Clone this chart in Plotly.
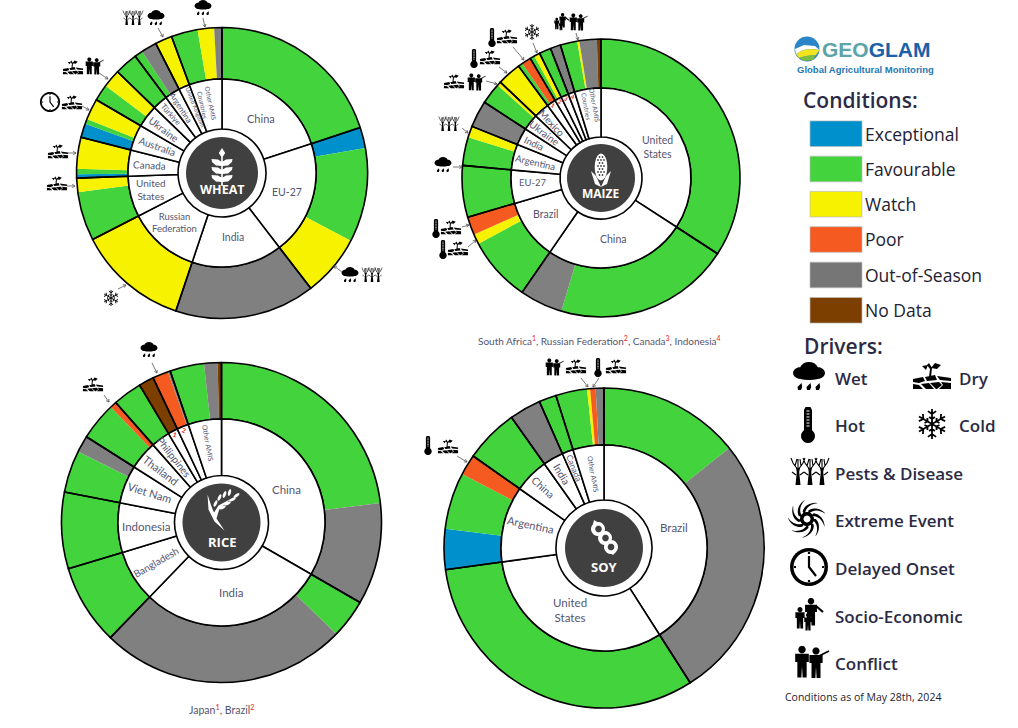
import math

import plotly.graph_objects as go

W, H = 1018, 728

COLORS = {"E": "#0090CC", "F": "#43D33C", "W": "#F7F200", "P": "#F55B21", "O": "#808080", "N": "#7C3F00"}
TEXT = "#55556F"
DARK = "#404040"

# country shares are degrees of the circle
wheat_countries = ["China", "EU-27", "India", "Russian<br>Federation", "United<br>States", "Canada", "Australia",
                   "Ukraine", "Türkiye", "Argentina", "United Kingdom", "Other AMIS<br>Countries"]
wheat_shares = [71.8, 70.6, 56.1, 44.3, 25.2, 16.2, 16.0, 13.9, 9.3, 9.5, 6.8, 20.3]
wheat_conditions = ["F", "E", "F", "W", "O", "W", "F", "W", "E", "F", "W", "E", "F", "W", "F", "W", "F", "F", "O", "W",
                    "F", "W", "O"]
wheat_values = [71.8, 8.3, 37.7, 24.6, 56.1, 44.3, 19.6, 5.6, 1.5, 2.2, 12.5, 5.6, 2.0, 8.4, 6.6, 7.3, 9.3, 3.3, 6.2,
                6.8, 10.6, 6.6, 3.1]

maize_countries = ["United<br>States", "China", "Brazil", "EU-27", "Argentina", "India", "Ukraine", "Mexico",
                   "1", "2", "3", "4", "Other AMIS<br>Countries"]
maize_shares = [123.0, 91.6, 39.0, 21.6, 16.6, 11.2, 10.6, 10.0, 5.8, 4.4, 4.9, 4.3, 17.0]
maize_conditions = ["F", "F", "O", "F", "W", "P", "F", "F", "W", "O", "F", "W", "W", "F", "P", "F", "W", "F", "O",
                    "F", "W", "O", "N"]
maize_values = [123.0, 73.6, 18.0, 27.2, 4.2, 7.6, 21.6, 11.8, 4.8, 11.2, 8.9, 1.7, 10.0, 1.9, 3.9, 1.9, 2.5, 4.9, 4.3,
                7.1, 0.9, 7.3, 1.7]

rice_countries = ["China", "India", "Bangladesh", "Indonesia", "Viet Nam", "Thailand", "Philippines", "1", "2",
                  "Other AMIS"]
rice_shares = [120.0, 104.0, 29.2, 27.8, 21.4, 16.2, 10.6, 5.5, 6.6, 18.7]
rice_conditions = ["F", "O", "F", "O", "F", "F", "F", "O", "F", "P", "F", "N", "P", "O", "F", "O", "N"]
rice_values = [83.0, 37.0, 14.2, 89.8, 29.2, 27.8, 15.3, 6.1, 13.8, 2.4, 10.6, 5.5, 5.7, 0.9, 12.4, 4.9, 1.4]

soy_countries = ["Brazil", "United<br>States", "Argentina", "China", "India", "Canada", "Other AMIS"]
soy_shares = [147.4, 114.8, 42.9, 19.6, 11.5, 6.3, 17.5]
soy_conditions = ["F", "O", "F", "E", "F", "P", "F", "O", "F", "F", "W", "P", "O"]
soy_values = [51.4, 96.0, 114.8, 14.7, 20.6, 7.6, 19.6, 11.5, 6.3, 11.4, 1.1, 2.0, 3.0]

legend_names = ["Exceptional", "Favourable", "Watch", "Poor", "Out-of-Season", "No Data"]
legend_codes = ["E", "F", "W", "P", "O", "N"]


def P(x, y):
    return f"{x / W:.5f},{1 - y / H:.5f}"


def ell(x, y, rx, ry=None, deg=0, n=20):
    ry = rx if ry is None else ry
    c, s = math.cos(math.radians(deg)), math.sin(math.radians(deg))
    pts = []
    for i in range(n):
        t = 2 * math.pi * i / n
        a, b = rx * math.cos(t), ry * math.sin(t)
        pts.append((x + a * c - b * s, y + a * s + b * c))
    return pts


def orient(pts):
    area = sum(pts[i][0] * pts[(i + 1) % len(pts)][1] - pts[(i + 1) % len(pts)][0] * pts[i][1] for i in range(len(pts)))
    return pts if area > 0 else pts[::-1]


def fill_shape(polys, cx, cy, s, color):
    path = ""
    for poly in polys:
        pts = orient(poly)
        path += "M" + " L".join(P(cx + x * s, cy + y * s) for x, y in pts) + " Z "
    return dict(type="path", path=path, xref="paper", yref="paper", fillcolor=color, fillrule="nonzero",
                line=dict(width=0), layer="above")


def line_shape(lines, cx, cy, s, color, width):
    path = ""
    for pts in lines:
        path += "M" + " L".join(P(cx + x * s, cy + y * s) for x, y in pts) + " "
    return dict(type="path", path=path, xref="paper", yref="paper", line=dict(color=color, width=width), layer="above")


def person(x, y, h):
    return [ell(x, y - h * 0.4, h * 0.12),
            [(x - h * 0.22, y - h * 0.27), (x + h * 0.22, y - h * 0.27), (x + h * 0.22, y), (x + h * 0.15, y),
             (x + h * 0.15, y + h * 0.5), (x + h * 0.02, y + h * 0.5), (x, y + h * 0.13), (x - h * 0.02, y + h * 0.5),
             (x - h * 0.15, y + h * 0.5), (x - h * 0.15, y), (x - h * 0.22, y)]]


def snow_lines():
    out = []
    for k in range(6):
        a = math.radians(60 * k + 90)
        ux, uy = math.cos(a), math.sin(a)
        out.append([(0, 0), (15 * ux, 15 * uy)])
        for r, ln in ((10, 5), (5, 3.5)):
            for d in (-55, 55):
                b = a + math.radians(d)
                out.append([(r * ux, r * uy), (r * ux + ln * math.cos(b), r * uy + ln * math.sin(b))])
    return out


def tree(x):
    trunk = [(x - 2.5, 13), (x - 1.2, 0), (x - 2, -4), (x + 2, -4), (x + 1.2, 0), (x + 2.5, 13)]
    branches = [[(x, -2), (x - 5, -9), (x - 7, -14)], [(x, -2), (x, -13)], [(x, -2), (x + 5, -9), (x + 7, -14)],
                [(x - 3, -6), (x - 1, -13)], [(x + 3, -6), (x + 2, -13)], [(x - 2, 3), (x - 6, 0)], [(x + 2, 3), (x + 6, 0)]]
    return trunk, branches


def swirl_polys():
    polys = []
    for k in range(9):
        a0 = 2 * math.pi * k / 9
        left, right = [], []
        for i in range(9):
            t = i / 8
            th = a0 + 1.1 * t
            r = 6 + 13 * t
            w = 2.6 * (1 - t) + 0.2
            left.append(((r + w) * math.cos(th), (r + w) * math.sin(th)))
            right.append(((r - w) * math.cos(th), (r - w) * math.sin(th)))
        polys.append(left + right[::-1])
    return polys


t1, b1 = tree(-12)
t2, b2 = tree(0)
t3, b3 = tree(12)

ICONS = {
    "wet": dict(fill=[ell(-8, -4, 8, 6), ell(0, -8, 9, 7), ell(8, -4, 8, 6), ell(0, -2, 15, 5)]
                + [[(x + 1.5, 6), (x + 2.2, 10), (x + 1, 13), (x - 2, 13), (x - 2.5, 10)] for x in (-9, 0, 9)]),
    "dry": dict(fill=[[(-19, 2), (-9, 0), (-7, 4), (-13, 6), (-19, 5)], [(-7, 0), (3, -2), (5, 3), (-5, 4)],
                      [(5, -1), (19, 1), (19, 4), (8, 3)], [(-19, 7), (-13, 8), (-9, 12), (-19, 12)],
                      [(-11, 7), (-3, 6), (2, 12), (-6, 12)], [(-2, 6), (7, 5), (10, 8), (5, 12), (4, 12)],
                      [(9, 5), (19, 6), (19, 12), (7, 12), (11, 8)],
                      [(-3, 0), (-2, -8), (-5, -12), (-3, -14), (0, -9), (-1, 0)],
                      [(-1, -9), (3, -14), (9, -12), (5, -8)], [(-4, -12), (-10, -11), (-6, -7)]]),
    "hot": dict(fill=[[(-4, 8), (-4, -14), (-2.5, -17), (2.5, -17), (4, -14), (4, 8)], ell(0, 12, 7)],
                white=[[(-1.5, y), (1.5, y)] for y in (-13, -10, -7, -4, -1, 2)]),
    "cold": dict(line=snow_lines(), lw=1.8),
    "pests": dict(fill=[t1, t2, t3], line=b1 + b2 + b3, lw=1.1),
    "swirl": dict(fill=swirl_polys() + [ell(0, 0, 7)], white_fill=[ell(0, 0, 3.5)]),
    "clock": dict(fill=[ell(0, 0, 19, n=32)], white_fill=[ell(0, 0, 15.5, n=32)],
                  line=[[(0, -11), (0, 0), (7, 9)], [(0, -15), (0, -13)], [(0, 15), (0, 13)], [(-15, 0), (-13, 0)],
                        [(15, 0), (13, 0)]], lw=2.2),
    "socio": dict(fill=person(3, -3, 27) + person(-8, 3, 21) + person(0, 7, 17), line=[[(8, -9), (15, -3)]], lw=2.2),
    "conflict": dict(fill=person(-7, 0, 31) + person(7, 1, 30), line=[[(10, -6), (20, -11)]], lw=1.6),
}


def icon(name, cx, cy, s=0.53):
    spec = ICONS[name]
    out = []
    if "fill" in spec:
        out.append(fill_shape(spec["fill"], cx, cy, s, "black"))
    if "white_fill" in spec:
        out.append(fill_shape(spec["white_fill"], cx, cy, s, "white"))
    if "white" in spec:
        out.append(line_shape(spec["white"], cx, cy, s, "white", max(0.6, 1.1 * s)))
    if "line" in spec:
        out.append(line_shape(spec["line"], cx, cy, s, "black", max(0.6, spec["lw"] * s)))
    return out


def leaf(y, side):
    return [(0, y + 3), (side * 6, y + 2.5), (side * 10, y - 1), (side * 10.5, y - 4), (side * 4, y - 3.5), (0, y - 1)]


def crop_glyph(name, cx, cy):
    if name == "wheat":
        polys = [[(0, -19), (3.2, -14), (0, -9), (-3.2, -14)], [(-0.8, -12), (0.8, -12), (0.8, 19), (-0.8, 19)]]
        for y in (-4, 4, 12):
            polys += [leaf(y, 1), leaf(y, -1)]
        return [fill_shape(polys, cx, cy, 1, "white")]
    if name == "maize":
        husk = [[(-10, 1), (-5, 6), (0, 17), (-6, 14)], [(10, 1), (5, 6), (0, 17), (6, 14)]]
        dots = []
        for row, y in enumerate(range(-13, 8, 3)):
            for x in (-3, 0, 3) if row % 2 else (-1.5, 1.5):
                dots.append(ell(x, y, 0.9, n=8))
        return [fill_shape([ell(0, -3, 6.3, 13.5)] + husk, cx, cy, 1, "white"), fill_shape(dots, cx, cy, 1, DARK)]
    if name == "rice":
        polys = [[(-14, -17), (-10, -5), (-5, 7), (3, 19), (-7, 10), (-13, -2)],
                 [(-8, 2), (-3, -6), (10, -13), (-2, -3), (-5, 7)]]
        for (x, y, a) in [(-6, -8, -65), (-2, -14, -65), (3, -17, -70), (8, -19, -75), (1, -4, -25), (6, -8, -25),
                          (11, -12, -25), (15, -16, -35)]:
            polys.append(ell(x, y, 3.6, 1.5, a, n=10))
        return [fill_shape(polys, cx, cy, 1, "white")]
    polys = [ell(-6, -9, 7), ell(1, 0, 7), ell(7, 9, 7), [(-11, -14), (-10, -18), (-5, -15)], [(12, 14), (9, 17), (5, 14)]]
    dark = [ell(-5.5, -9, 3.3), ell(1.5, 0, 3.3), ell(7, 9, 3.3)]
    return [fill_shape(polys, cx, cy, 1, "white"), fill_shape(dark, cx, cy, 1, DARK)]


shapes = []
annotations = []
traces = []


def text(x, y, s, size, color=TEXT, weight=400, angle=0, xanchor="center", family="Lato"):
    annotations.append(dict(x=x / W, y=1 - y / H, xref="paper", yref="paper", text=s, showarrow=False, textangle=angle,
                            xanchor=xanchor, yanchor="middle", align="center", borderpad=0, borderwidth=0,
                            font=dict(family=family, size=size, color=color, weight=weight)))


def arrow(x0, y0, x1, y1):
    a = math.atan2(y1 - y0, x1 - x0)
    head = [(x1 + 3.2 * math.cos(a + d), y1 + 3.2 * math.sin(a + d)) for d in (2.6, -2.6)]
    shapes.append(line_shape([[(x0, y0), (x1, y1)], [head[0], (x1, y1), head[1]]], 0, 0, 1, "#555555", 0.8))


def domain(cx, cy, r):
    return dict(x=[(cx - r) / W, (cx + r) / W], y=[1 - (cy + r) / H, 1 - (cy - r) / H])


def donut(cx, cy, r_out, r_in, r_ring, r_dark, countries, shares, conditions, values, label_style, title, glyph, title_size, title_dy, glyph_dy):
    common = dict(sort=False, direction="clockwise", rotation=0, textinfo="none", showlegend=False, hoverinfo="label+value")
    traces.append(go.Pie(values=values, labels=[f"{i}" for i in range(len(values))], domain=domain(cx, cy, r_out),
                         hole=r_in / r_out, marker=dict(colors=[COLORS[c] for c in conditions], line=dict(width=0)), **common))
    traces.append(go.Pie(values=shares, labels=countries, domain=domain(cx, cy, r_out), hole=r_in / r_out,
                         marker=dict(colors=["rgba(0,0,0,0)"] * len(shares), line=dict(color="black", width=1.6)), **common))
    traces.append(go.Pie(values=shares, labels=countries, domain=domain(cx, cy, r_in), hole=r_ring / r_in,
                         marker=dict(colors=["white"] * len(shares), line=dict(color="black", width=1.6)), **common))
    shapes.append(dict(type="path", path="M" + " L".join(P(cx + x, cy + y) for x, y in ell(0, 0, r_dark, n=64)) + " Z",
                       xref="paper", yref="paper", fillcolor=DARK, line=dict(width=0), layer="above"))
    shapes.extend(crop_glyph(glyph, cx, cy + glyph_dy))
    text(cx, cy + title_dy, title, title_size, "white", 700, family="Open Sans")

    start = 0
    for name, share in zip(countries, shares):
        frac, angle, size, nudge = label_style[name]
        mid = math.radians(start + share / 2 + nudge)
        x = cx + frac * r_in * math.sin(mid)
        y = cy - frac * r_in * math.cos(mid)
        if name.isdigit():
            text(x, y, name, size, "#F02020", 700, angle)
        else:
            text(x, y, name, size, TEXT, 400, angle)
        start += share


wheat_style = {"China": (.71, 0, 11, 0), "EU-27": (.72, 0, 10.5, -1), "India": (.69, 0, 10.5, 0),
               "Russian<br>Federation": (.73, 0, 9.5, 3), "United<br>States": (.78, 0, 10, 1.5), "Canada": (.78, 3, 10, 0),
               "Australia": (.75, 20, 10, 0), "Ukraine": (.78, 37, 10, 0), "Türkiye": (.83, 48, 8, 0),
               "Argentina": (.82, 57, 8, 0), "United Kingdom": (.76, 68, 6, 1.5), "Other AMIS<br>Countries": (.75, 78, 6.5, -2)}
maize_style = {"United<br>States": (.72, 0, 10.5, 0), "China": (.69, 0, 10.5, 0), "Brazil": (.74, 0, 10.5, 3),
               "EU-27": (.76, 0, 9.5, 1.5), "Argentina": (.75, 13, 9.5, 0), "India": (.84, 25, 9.5, 0), "Ukraine": (.8, 37, 10, 0),
               "Mexico": (.82, 47, 10, 0), "1": (.96, 30, 6, 0), "2": (.96, 25, 6, 0), "3": (.96, 25, 6, 0), "4": (.96, 20, 6, 0),
               "Other AMIS<br>Countries": (.81, 80, 6.5, 0)}
rice_style = {"China": (.71, 0, 11.5, 3), "India": (.68, 0, 11.5, 0), "Bangladesh": (.74, -30, 10, 0), "Indonesia": (.73, 0, 11.5, 0),
              "Viet Nam": (.75, 17, 11, 1), "Thailand": (.77, 37, 11, 0), "Philippines": (.78, 52, 10, 0),
              "1": (.96, 20, 6.5, 0), "2": (.96, 20, 6.5, 0), "Other AMIS": (.78, 80, 7, 0)}
soy_style = {"Brazil": (.71, 0, 11.5, 0), "United<br>States": (.69, 0, 11.5, 4), "Argentina": (.75, 12, 11, 4), "China": (.84, 42, 10.5, 0),
             "India": (.83, 60, 10.5, 0), "Canada": (.83, 68, 8.5, 0), "Other AMIS": (.72, 80, 7, 1)}

donut(222, 173, 145.5, 94, 44, 36, wheat_countries, wheat_shares, wheat_conditions, wheat_values, wheat_style, "WHEAT", "wheat", 12.5, 17, -6)
donut(601, 178, 139, 90, 41, 34, maize_countries, maize_shares, maize_conditions, maize_values, maize_style, "MAIZE", "maize", 12, 16, -8)
donut(221.5, 522.5, 160, 103.5, 47, 39, rice_countries, rice_shares, rice_conditions, rice_values, rice_style, "RICE", "rice", 13, 19, -11)
donut(604, 548, 160, 103, 48, 39, soy_countries, soy_shares, soy_conditions, soy_values, soy_style, "SOY", "soy", 13, 19, -10)

# driver icons with their arrows
placed = [("pests", 133, 18), ("wet", 156, 18), ("wet", 203, 8), ("dry", 73, 68), ("conflict", 93, 66), ("clock", 50, 102),
          ("dry", 72, 103), ("dry", 58, 152), ("dry", 57, 184), ("cold", 111, 298), ("wet", 350, 275), ("pests", 372, 275),
          ("socio", 561, 22), ("conflict", 577, 22), ("hot", 492, 37), ("dry", 507, 37), ("cold", 532, 32), ("hot", 474, 58),
          ("dry", 490, 58), ("dry", 454, 82), ("conflict", 475, 82), ("pests", 449, 124), ("wet", 443, 165), ("hot", 436, 228),
          ("dry", 451, 228), ("hot", 443, 249), ("dry", 458, 249), ("wet", 149, 350), ("dry", 93, 385), ("conflict", 553, 367),
          ("dry", 576, 367), ("hot", 598, 367), ("dry", 616, 367), ("hot", 428, 445), ("dry", 448, 447)]
for name, x, y in placed:
    shapes.extend(icon(name, x, y))

arrows = [(158, 28, 163, 37), (203, 18, 205, 27), (99, 73, 108, 79), (82, 106, 89, 110), (68, 153, 76, 153), (67, 186, 75, 186),
          (118, 289, 126, 285), (342, 272, 334, 266), (576, 33, 578, 40), (513, 47, 524, 60), (533, 43, 537, 53), (499, 67, 507, 73),
          (486, 81, 497, 84), (462, 128, 468, 133), (453, 167, 462, 167), (462, 227, 469, 225), (468, 247, 476, 240),
          (152, 363, 157, 373), (104, 395, 109, 402), (581, 378, 588, 387), (599, 378, 593, 387), (457, 456, 467, 462)]
for a in arrows:
    arrow(*a)

text(599, 340, 'South Africa<sup><span style="color:#F02020">1</span></sup>, Russian Federation<sup><span style="color:#F02020">2</span></sup>, '
     'Canada<sup><span style="color:#F02020">3</span></sup>, Indonesia<sup><span style="color:#F02020">4</span></sup>', 10)
text(221, 709, 'Japan<sup><span style="color:#F02020">1</span></sup>, Brazil<sup><span style="color:#F02020">2</span></sup>', 10.5)

# logo
shapes.append(fill_shape([ell(807, 49, 12.5, n=32)], 0, 0, 1, "#2A86C8"))
shapes.append(fill_shape([[(795, 49), (804, 45), (815, 46), (819.5, 50), (812, 49), (803, 50), (796, 54)]], 0, 0, 1, "white"))
shapes.append(fill_shape([[(796, 54), (803, 50), (812, 49), (819.5, 50), (816, 55), (806, 56), (799, 58)]], 0, 0, 1, "#F2E41E"))
shapes.append(fill_shape([[(799, 58), (806, 56), (816, 55), (813, 60), (804, 61)]], 0, 0, 1, "#7DBB42"))
text(822, 50, '<span style="color:#5BA4A8">GEO</span>GLAM', 21, "#1A62A8", 700, xanchor="left", family="Liberation Sans")
text(797, 69, "Global Agricultural Monitoring", 9.5, "#1F78B4", 700, xanchor="left", family="Liberation Sans")

# legend
text(803, 100, "Conditions:", 21, "#2B2B45", 600, xanchor="left", family="Open Sans")
legend_y = [133.7, 169, 204.2, 239.5, 275, 310.3]
for name, code, y in zip(legend_names, legend_codes, legend_y):
    shapes.append(dict(type="rect", x0=810 / W, x1=862 / W, y0=1 - (y + 12.8) / H, y1=1 - (y - 12.8) / H, xref="paper", yref="paper",
                       fillcolor=COLORS[code] if code != "O" else "#767676", line=dict(color="#BBBBBB", width=0.7), layer="above"))
    text(865, y, name, 17.5, "#222233", 400, xanchor="left", family="Open Sans")

text(804, 346, "Drivers:", 21, "#2B2B45", 600, xanchor="left", family="Open Sans")
driver_rows = [("wet", "Wet", 809, 835, 378), ("dry", "Dry", 932, 959, 378), ("hot", "Hot", 808, 835, 425), ("cold", "Cold", 932, 959, 425),
               ("pests", "Pests &amp; Disease", 810, 835, 473), ("swirl", "Extreme Event", 807, 835, 520), ("clock", "Delayed Onset", 809, 835, 568),
               ("socio", "Socio-Economic", 808, 835, 616), ("conflict", "Conflict", 809, 835, 663)]
for name, label, ix, tx, y in driver_rows:
    shapes.extend(icon(name, ix, y - 1, 1))
    text(tx, y, label, 17, "#2B2B45", 600, xanchor="left", family="Open Sans")

text(785, 697, "Conditions as of May 28th, 2024", 10.5, "#222233", 400, xanchor="left", family="Open Sans")

fig = go.Figure(traces)
fig.update_layout(width=W, height=H, margin=dict(l=0, r=0, t=0, b=0), paper_bgcolor="white", plot_bgcolor="white",
                  shapes=shapes, annotations=annotations)
fig.write_html("out.html", config={"displayModeBar": False}, post_script="document.body.style.margin='0';")
